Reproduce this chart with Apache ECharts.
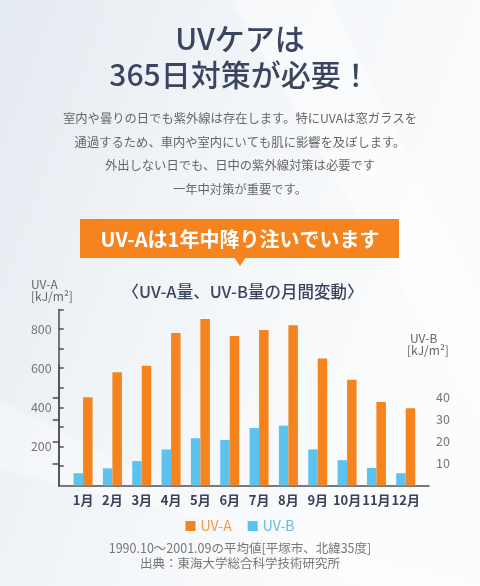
<!DOCTYPE html>
<html>
<head>
<meta charset="utf-8">
<script src="https://cdn.jsdelivr.net/npm/echarts@6/dist/echarts.min.js"></script>
<style>
html,body{margin:0;padding:0;background:#fff;}
#chart{width:480px;height:586px;}
</style>
</head>
<body>
<div id="chart"></div>
<script>
// ---- data ----
var months = ['1月','2月','3月','4月','5月','6月','7月','8月','9月','10月','11月','12月'];
var uvA = [451, 579, 612, 780, 851, 764, 795, 820, 650, 541, 427, 395];
var uvB = [5.6, 7.8, 11.1, 16.4, 21.5, 20.7, 26.1, 27.2, 16.4, 11.5, 8.0, 5.6];
var leftLabels = [200, 400, 600, 800];
var leftTicks = [100, 200, 300, 400, 500, 600, 700, 800, 900];
var rightLabels = [10, 20, 30, 40];
var titleLines = ['UVケアは', '365日対策が必要！'];
var bodyLines = [
  '室内や曇りの日でも紫外線は存在します。特にUVAは窓ガラスを',
  '通過するため、車内や室内にいても肌に影響を及ぼします。',
  '外出しない日でも、日中の紫外線対策は必要です',
  '一年中対策が重要です。'
];
var bannerText = 'UV-Aは1年中降り注いでいます';
var chartTitle = '〈UV-A量、UV-B量の月間変動〉';
var footLines = ['1990.10～2001.09の平均値[平塚市、北緯35度]', '出典：東海大学総合科学技術研究所'];

var FONT = '"Noto Sans CJK JP", "Noto Sans", sans-serif';
var NAVY = '#3b4560';
var ORANGE = '#f5841f';
var BLUE = '#5cc3ef';
var AXIS = '#4d4d4d';

// plot geometry (px)
var PLOT_TOP = 309.5, PLOT_H = 176, BASE = PLOT_TOP + PLOT_H;
var LEFT_MAX = 900, RIGHT_MAX = 80, RIGHT_LINE_MAX = 55;
var rightTop = BASE - PLOT_H * RIGHT_LINE_MAX / RIGHT_MAX;

var chart = echarts.init(document.getElementById('chart'), null, {renderer: 'canvas'});

var graphics = [
  {type: 'polygon', silent: true, z: -10, shape: {points: [[230,0],[330,0],[480,300],[480,420]]}, style: {fill: 'rgba(255,255,255,0.45)'}},
  {type: 'polygon', silent: true, z: -10, shape: {points: [[0,400],[0,470],[480,586],[360,586]]}, style: {fill: 'rgba(255,255,255,0.35)'}},
  {type: 'text', x: 240, y: 39, style: {text: titleLines[0], font: '500 30px ' + FONT, fill: NAVY, align: 'center', verticalAlign: 'middle'}},
  {type: 'text', x: 240, y: 75, style: {text: titleLines[1], font: '500 30px ' + FONT, fill: NAVY, align: 'center', verticalAlign: 'middle'}},
  {type: 'rect', shape: {x: 80, y: 219, width: 319, height: 39}, style: {fill: ORANGE}},
  {type: 'polygon', shape: {points: [[234,257],[246,257],[240,266]]}, style: {fill: ORANGE}},
  {type: 'text', x: 240, y: 239, style: {text: bannerText, font: 'bold 20px ' + FONT, fill: '#ffffff', align: 'center', verticalAlign: 'middle'}},
  {type: 'text', x: 243, y: 292, style: {text: chartTitle, font: '500 16.5px ' + FONT, fill: NAVY, align: 'center', verticalAlign: 'middle'}},
  {type: 'text', x: 31, y: 284, style: {text: 'UV-A', font: '12px ' + FONT, fill: '#666', align: 'left', verticalAlign: 'middle'}},
  {type: 'text', x: 31, y: 296, style: {text: '[kJ/m²]', font: '12px ' + FONT, fill: '#666', align: 'left', verticalAlign: 'middle'}},
  {type: 'text', x: 410, y: 338, style: {text: 'UV-B', font: '12px ' + FONT, fill: '#666', align: 'left', verticalAlign: 'middle'}},
  {type: 'text', x: 407, y: 350, style: {text: '[kJ/m²]', font: '12px ' + FONT, fill: '#666', align: 'left', verticalAlign: 'middle'}}
];
var bodyY = [118, 142, 165, 189];
bodyLines.forEach(function (t, i) {
  graphics.push({type: 'text', x: 240, y: bodyY[i], style: {text: t, font: '12.3px ' + FONT, fill: '#666', align: 'center', verticalAlign: 'middle'}});
});
var footY = [548, 563];
footLines.forEach(function (t, i) {
  graphics.push({type: 'text', x: 240, y: footY[i], style: {text: t, font: '12.5px ' + FONT, fill: '#777', align: 'center', verticalAlign: 'middle'}});
});

var option = {
  backgroundColor: {
    type: 'linear', x: 0, y: 0, x2: 1, y2: 0.3,
    colorStops: [{offset: 0, color: '#e4eaf1'}, {offset: 0.5, color: '#f2f5f8'}, {offset: 1, color: '#fbfcfd'}]
  },
  animation: false,
  textStyle: {fontFamily: FONT},
  graphic: graphics,
  legend: {
    top: 514, left: 'center', itemWidth: 10, itemHeight: 10, icon: 'rect', itemGap: 16,
    data: [
      {name: 'UV-A', textStyle: {color: '#f29a4e'}},
      {name: 'UV-B', textStyle: {color: '#5cbfe8'}}
    ],
    textStyle: {fontSize: 14, fontFamily: FONT}
  },
  grid: [
    {left: 68.4, width: 352, top: PLOT_TOP, height: PLOT_H},
    {left: 58.7, right: 51, top: PLOT_TOP, height: PLOT_H},
    {left: 58.7, right: 51, top: rightTop, height: BASE - rightTop}
  ],
  xAxis: [
    {
      type: 'category', gridIndex: 0, data: months,
      axisLine: {show: false}, axisTick: {show: false},
      axisLabel: {color: '#3a4158', fontSize: 13, fontWeight: 'bold', margin: 8, interval: 0, fontFamily: FONT}
    },
    {
      type: 'value', gridIndex: 1, min: 0, max: 1,
      axisLine: {show: true, onZero: false, lineStyle: {color: AXIS, width: 1.5}},
      axisTick: {show: false}, axisLabel: {show: false}, splitLine: {show: false}
    },
    {
      type: 'value', gridIndex: 2, min: 0, max: 1, show: false
    }
  ],
  yAxis: [
    {type: 'value', gridIndex: 0, min: 0, max: LEFT_MAX, show: false, splitLine: {show: false}},
    {type: 'value', gridIndex: 0, min: 0, max: RIGHT_MAX, show: false, splitLine: {show: false}},
    {
      type: 'value', gridIndex: 1, position: 'left', min: 0, max: LEFT_MAX, interval: 100,
      axisLine: {show: true, lineStyle: {color: AXIS, width: 1.5}},
      axisTick: {show: true, inside: true, length: 5, customValues: leftTicks, lineStyle: {color: AXIS, width: 1.5}},
      axisLabel: {customValues: leftLabels, color: '#777', fontSize: 12.5, margin: 7, fontFamily: FONT},
      splitLine: {show: false}
    },
    {
      type: 'value', gridIndex: 2, position: 'right', min: 0, max: RIGHT_LINE_MAX, interval: 10,
      axisLine: {show: true, lineStyle: {color: AXIS, width: 1.5}},
      axisTick: {show: true, inside: true, length: 6, customValues: rightLabels, lineStyle: {color: AXIS, width: 1.5}},
      axisLabel: {customValues: rightLabels, color: '#777', fontSize: 12.5, margin: 7, fontFamily: FONT},
      splitLine: {show: false}
    }
  ],
  series: [
    {
      name: 'UV-B', type: 'bar', xAxisIndex: 0, yAxisIndex: 1, data: uvB,
      barWidth: 9.5, barGap: '0%', itemStyle: {color: BLUE}
    },
    {
      name: 'UV-A', type: 'bar', xAxisIndex: 0, yAxisIndex: 0, data: uvA,
      barWidth: 9.5, barGap: '0%', itemStyle: {color: ORANGE}
    }
  ]
};
chart.setOption(option);
</script>
</body>
</html>
